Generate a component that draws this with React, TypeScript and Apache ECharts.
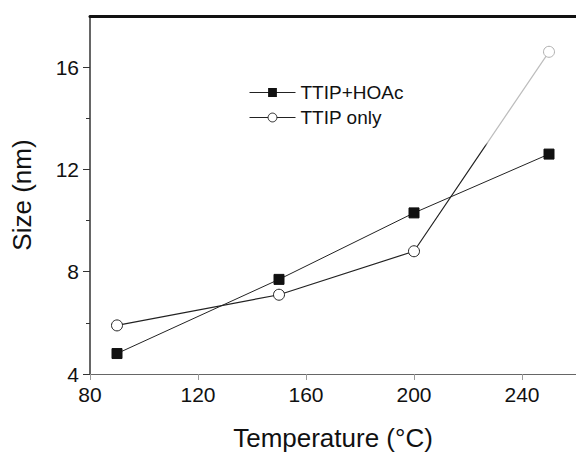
import React, { useEffect, useRef } from "react";
import * as echarts from "echarts";

const temperatures = [90, 150, 200, 250];
const sizeHOAc = [4.8, 7.7, 10.3, 12.6];
const sizeOnly = [5.9, 7.1, 8.8, 16.6];
const xTickValues = [80, 120, 160, 200, 240];
const yTickValues = [4, 8, 12, 16];
const yMinorValues = [6, 10, 14];

const FONT = "Liberation Sans, Arial, sans-serif";

export default function App() {
  const ref = useRef<HTMLDivElement>(null);
  useEffect(() => {
    if (!ref.current) return;
    const chart = echarts.init(ref.current, null, { renderer: "svg" });
    const hoacData = temperatures.map((t, i) => [t, sizeHOAc[i]]);
    const onlyData = temperatures.map((t, i) => {
      const item: any = { value: [t, sizeOnly[i]] };
      if (i === temperatures.length - 1) {
        item.itemStyle = { borderColor: "#b0b0b0", color: "#fff" };
      }
      return item;
    });
    chart.setOption({
      animation: false,
      backgroundColor: "#fff",
      textStyle: { fontFamily: FONT },
      grid: { left: 90, right: 0, top: 16, bottom: 78, outerBoundsMode: "none", containLabel: false },
      legend: {
        orient: "vertical",
        left: 244,
        top: 78,
        itemWidth: 46,
        itemHeight: 11,
        itemGap: 6,
        textStyle: { fontSize: 19, color: "#111", fontFamily: FONT },
        data: [
          { name: "TTIP+HOAc", lineStyle: { color: "#222", width: 1 }, itemStyle: { color: "#111", borderColor: "#111" } },
          { name: "TTIP only", lineStyle: { color: "#222", width: 1 }, itemStyle: { color: "#fff", borderColor: "#222", borderWidth: 1 } },
        ],
      },
      xAxis: [
        {
          type: "value",
          min: 80,
          max: 260,
          interval: 40,
          name: "Temperature (°C)",
          nameLocation: "middle",
          nameGap: 51,
          nameTextStyle: { fontSize: 26, lineHeight: 26, color: "#111", fontFamily: FONT },
          axisLine: { show: true, onZero: false, lineStyle: { color: "#666", width: 1 } },
          axisTick: { show: true, inside: false, length: 6, customValues: xTickValues, lineStyle: { color: "#999" } },
          axisLabel: { customValues: xTickValues, fontSize: 21, color: "#111", margin: 10, fontFamily: FONT },
          splitLine: { show: false },
        },
        {
          type: "value",
          position: "top",
          min: 80,
          max: 260,
          axisLine: { show: true, onZero: false, lineStyle: { color: "#111", width: 3 } },
          axisTick: { show: false },
          axisLabel: { show: false },
          splitLine: { show: false },
        },
      ],
      yAxis: [
        {
          type: "value",
          min: 4,
          max: 18,
          interval: 4,
          name: "Size (nm)",
          nameLocation: "middle",
          nameGap: 55,
          nameTextStyle: { fontSize: 26, color: "#111", fontFamily: FONT },
          axisLine: { show: true, onZero: false, lineStyle: { color: "#333", width: 1.5 } },
          axisTick: { show: true, inside: false, length: 7, customValues: yTickValues, lineStyle: { color: "#333" } },
          axisLabel: { customValues: yTickValues, fontSize: 21, color: "#111", margin: 11, fontFamily: FONT },
          splitLine: { show: false },
        },
        {
          type: "value",
          position: "left",
          min: 4,
          max: 18,
          axisLine: { show: false },
          axisTick: { show: true, inside: false, length: 4, customValues: yMinorValues, lineStyle: { color: "#333" } },
          axisLabel: { show: false },
          splitLine: { show: false },
        },
      ],
      series: [
        {
          name: "TTIP+HOAc",
          type: "line",
          data: hoacData,
          symbol: "rect",
          symbolSize: 10,
          itemStyle: { color: "#111", borderColor: "#111" },
          lineStyle: { color: "#222", width: 1 },
          z: 3,
        },
        {
          name: "TTIP only",
          type: "line",
          data: onlyData,
          symbol: "circle",
          symbolSize: 11,
          itemStyle: { color: "#fff", borderColor: "#222", borderWidth: 1 },
          lineStyle: {
            width: 1.2,
            color: new echarts.graphic.LinearGradient(0, 0, 0, 1, [
              { offset: 0, color: "#bdbdbd" },
              { offset: 0.33, color: "#bdbdbd" },
              { offset: 0.345, color: "#222" },
              { offset: 1, color: "#222" },
            ]),
          },
          z: 3,
        },
      ],
    });
    return () => chart.dispose();
  }, []);
  return (
    <div
      ref={ref}
      style={{ position: "fixed", left: 0, top: 0, width: 576, height: 452 }}
    />
  );
}
